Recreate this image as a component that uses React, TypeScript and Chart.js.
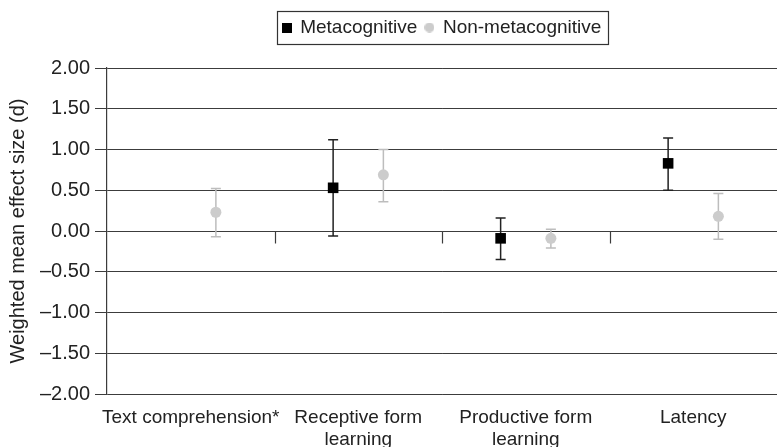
import React, { useEffect, useRef } from 'react';
import { Chart, registerables } from 'chart.js';

Chart.register(...registerables);

// ---- data ----
const categories: string[][] = [
  ['Text comprehension*'],
  ['Receptive form', 'learning'],
  ['Productive form', 'learning'],
  ['Latency'],
];
const seriesNames = ['Metacognitive', 'Non-metacognitive'];
const metaMean: (number | null)[] = [null, 0.53, -0.09, 0.83];
const metaLower: (number | null)[] = [null, -0.06, -0.35, 0.5];
const metaUpper: (number | null)[] = [null, 1.12, 0.16, 1.14];
const nonMean: (number | null)[] = [0.23, 0.69, -0.09, 0.18];
const nonLower: (number | null)[] = [-0.07, 0.36, -0.21, -0.1];
const nonUpper: (number | null)[] = [0.52, 1.0, 0.02, 0.46];
const yTickValues = [-2, -1.5, -1, -0.5, 0, 0.5, 1, 1.5, 2];

// ---- styling ----
const FONT = "'Liberation Sans', Arial, Helvetica, sans-serif";
const TEXT = '#222222';
const GRID = '#3c3c3c';
const META_COLOR = '#000000';
const META_ERR = '#222222';
const NON_COLOR = '#cccccc';
const NON_ERR = '#bdbdbd';
const GROUP_OFFSET = 0.15;

function makeSymbol(kind: 'rect' | 'circle', size: number, color: string) {
  const c = document.createElement('canvas');
  c.width = size;
  c.height = size;
  const g = c.getContext('2d')!;
  g.fillStyle = color;
  if (kind === 'rect') {
    g.fillRect(0, 0, size, size);
  } else {
    g.beginPath();
    g.arc(size / 2, size / 2, size / 2, 0, Math.PI * 2);
    g.fill();
  }
  return c;
}

const errorBarPlugin = {
  id: 'errorBars',
  beforeDatasetsDraw(chart: any) {
    const ctx = chart.ctx;
    const y = chart.scales.y;
    chart.data.datasets.forEach((ds: any, di: number) => {
      const meta = chart.getDatasetMeta(di);
      ctx.save();
      ctx.strokeStyle = ds.errColor;
      ctx.lineWidth = 1.5;
      meta.data.forEach((el: any, i: number) => {
        const lo = ds.errLow[i];
        const hi = ds.errHigh[i];
        if (lo == null || hi == null || ds.data[i].y == null) return;
        const x = el.x;
        const yl = y.getPixelForValue(lo);
        const yh = y.getPixelForValue(hi);
        ctx.beginPath();
        ctx.moveTo(x, yl);
        ctx.lineTo(x, yh);
        ctx.moveTo(x - 5, yl);
        ctx.lineTo(x + 5, yl);
        ctx.moveTo(x - 5, yh);
        ctx.lineTo(x + 5, yh);
        ctx.stroke();
      });
      ctx.restore();
    });
  },
};

const zeroTickPlugin = {
  id: 'zeroTicks',
  afterDraw(chart: any) {
    const ctx = chart.ctx;
    const xs = chart.scales.x;
    const ys = chart.scales.y;
    const y0 = Math.round(ys.getPixelForValue(0)) + 0.5;
    ctx.save();
    ctx.strokeStyle = GRID;
    ctx.lineWidth = 1.2;
    for (let i = 1; i < categories.length; i++) {
      const x = Math.round(xs.getPixelForValue(i)) + 0.5;
      ctx.beginPath();
      ctx.moveTo(x, y0);
      ctx.lineTo(x, y0 + 12);
      ctx.stroke();
    }
    ctx.restore();
  },
};

const LEGEND_HEIGHT = 58;
const legendBoxPlugin = {
  id: 'legendBox',
  beforeLayout(chart: any) {
    const lg = chart.legend;
    if (lg && !lg.__patched) {
      const orig = lg.fit.bind(lg);
      lg.fit = () => {
        orig();
        lg.height = LEGEND_HEIGHT;
        if (lg.minSize) lg.minSize.height = LEGEND_HEIGHT;
      };
      lg.__patched = true;
    }
  },
  afterDraw(chart: any) {
    const lg = chart.legend;
    if (!lg || !lg.legendHitBoxes || !lg.legendHitBoxes.length) return;
    const boxes = lg.legendHitBoxes;
    const left = Math.min(...boxes.map((b: any) => b.left));
    const right = Math.max(...boxes.map((b: any) => b.left + b.width));
    const top = Math.min(...boxes.map((b: any) => b.top));
    const bottom = Math.max(...boxes.map((b: any) => b.top + b.height));
    const ctx = chart.ctx;
    ctx.save();
    ctx.strokeStyle = '#333333';
    ctx.lineWidth = 1.2;
    const x0 = Math.round(left - 6) + 0.5;
    const y0 = Math.round(top - 7) + 0.5;
    const x1 = Math.round(right + 7) + 0.5;
    const y1 = Math.round(bottom + 7) + 0.5;
    ctx.strokeRect(x0, y0, x1 - x0, y1 - y0);
    ctx.restore();
  },
};

export default function App() {
  const ref = useRef<HTMLCanvasElement | null>(null);

  useEffect(() => {
    document.body.style.margin = '0';
    if (!ref.current) return;
    const legendSymbols = [makeSymbol('rect', 10, META_COLOR), makeSymbol('circle', 10, NON_COLOR)];

    const chart = new Chart(ref.current, {
      type: 'scatter',
      data: {
        datasets: [
          {
            label: seriesNames[0],
            data: metaMean.map((v, i) => ({ x: i + 0.5 - GROUP_OFFSET, y: v })),
            pointStyle: 'rect',
            pointRadius: 7.5,
            pointHoverRadius: 7.5,
            backgroundColor: META_COLOR,
            borderColor: META_COLOR,
            borderWidth: 0,
            errLow: metaLower,
            errHigh: metaUpper,
            errColor: META_ERR,
          } as any,
          {
            label: seriesNames[1],
            data: nonMean.map((v, i) => ({ x: i + 0.5 + GROUP_OFFSET, y: v })),
            pointStyle: 'circle',
            pointRadius: 5.5,
            pointHoverRadius: 5.5,
            backgroundColor: NON_COLOR,
            borderColor: NON_COLOR,
            borderWidth: 0,
            errLow: nonLower,
            errHigh: nonUpper,
            errColor: NON_ERR,
          } as any,
        ],
      },
      options: {
        animation: false,
        responsive: false,
        maintainAspectRatio: false,
        layout: { autoPadding: false, padding: { top: 10, right: 0, left: 0, bottom: 0 } },
        plugins: {
          tooltip: { enabled: false },
          legend: {
            display: true,
            position: 'top',
            fullSize: false,
            labels: {
              usePointStyle: true,
              boxWidth: 8,
              boxHeight: 10,
              padding: 8,
              color: TEXT,
              font: { family: FONT, size: 19 },
              generateLabels: (ch: any) =>
                ch.data.datasets.map((ds: any, i: number) => ({
                  text: ds.label,
                  fillStyle: ds.backgroundColor,
                  strokeStyle: ds.backgroundColor,
                  lineWidth: 0,
                  pointStyle: legendSymbols[i],
                  hidden: false,
                  datasetIndex: i,
                  fontColor: TEXT,
                })),
            },
          },
        },
        scales: {
          x: {
            type: 'linear',
            min: 0,
            max: categories.length,
            afterBuildTicks: (s: any) => {
              s.ticks = categories.map((_, i) => ({ value: i + 0.5 }));
            },
            afterFit: (s: any) => {
              s.height = 53;
              s.paddingLeft = 0;
              s.paddingRight = 0;
            },
            grid: { display: false },
            border: { display: false },
            ticks: {
              autoSkip: false,
              maxRotation: 0,
              minRotation: 0,
              padding: 5,
              color: TEXT,
              font: { family: FONT, size: 19, lineHeight: 1.15 },
              callback: (v: any) => categories[Math.floor(Number(v))] ?? '',
            },
          },
          y: {
            type: 'linear',
            min: -2,
            max: 2,
            afterBuildTicks: (s: any) => {
              s.ticks = yTickValues.map((v) => ({ value: v }));
            },
            afterFit: (s: any) => {
              s.width = 107;
            },
            grid: {
              color: GRID,
              lineWidth: 1,
              drawTicks: true,
              tickLength: 12,
            },
            border: { display: true, color: GRID, width: 1.2 },
            ticks: {
              padding: 5,
              color: TEXT,
              font: { family: FONT, size: 20 },
              callback: (v: any) => {
                const n = Number(v);
                const s = Math.abs(n).toFixed(2);
                return n < 0 ? '\u2013' + s : s;
              },
            },
            title: {
              display: true,
              text: 'Weighted mean effect size (d)',
              color: TEXT,
              font: { family: FONT, size: 20 },
              padding: { top: 6, bottom: 0 },
            },
          },
        },
      },
      plugins: [errorBarPlugin, zeroTickPlugin, legendBoxPlugin],
    } as any);

    return () => chart.destroy();
  }, []);

  return (
    <div style={{ width: 777, height: 447 }}>
      <canvas ref={ref} width={777} height={447} style={{ display: 'block', width: 777, height: 447 }} />
    </div>
  );
}
